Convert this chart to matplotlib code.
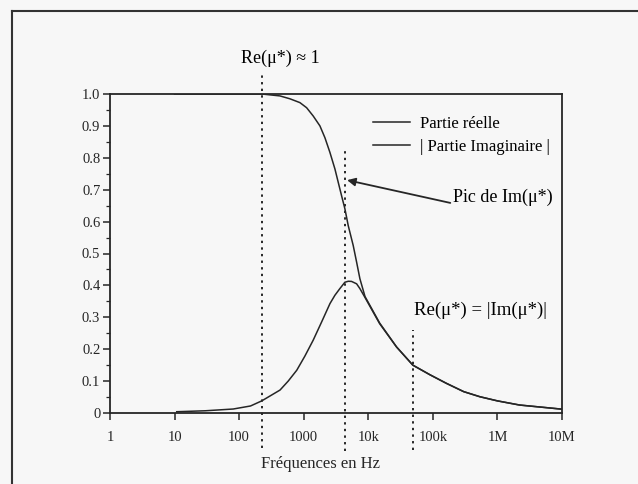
import matplotlib
matplotlib.use("Agg")
import matplotlib.pyplot as plt
from matplotlib.lines import Line2D

plt.rcParams['font.family'] = ['Liberation Serif', 'DejaVu Serif']

# valeurs (frequence en Hz)
freq_re = [10, 100, 225, 428, 611, 873, 1109, 1403, 1782, 2130, 2545, 3043, 3426,
           3858, 4345, 4890, 5843, 6594, 7413, 8900, 15000, 27400, 49000, 89900,
           162000, 300000, 535000, 1e6, 2.2e6, 1e7]
re_vals = [1.0, 1.0, 1.0, 0.994, 0.985, 0.973, 0.957, 0.931, 0.90, 0.863, 0.817,
           0.765, 0.723, 0.681, 0.64, 0.5875, 0.525, 0.473, 0.421, 0.365, 0.282,
           0.207, 0.15, 0.12, 0.093, 0.067, 0.051, 0.038, 0.025, 0.012]

freq_im = [10.8, 30, 81, 150, 224, 430, 575, 780, 1040, 1400, 1890, 2550, 3040,
           3630, 4345, 4900, 5500, 6594, 7413, 8900, 15000, 27400, 49000, 89900,
           162000, 300000, 535000, 1e6, 2.2e6, 1e7]
im_vals = [0.004, 0.007, 0.0125, 0.022, 0.038, 0.072, 0.1, 0.134, 0.178, 0.228,
           0.285, 0.343, 0.369, 0.39, 0.41, 0.413, 0.4125, 0.405, 0.39, 0.362,
           0.28, 0.207, 0.15, 0.12, 0.093, 0.067, 0.051, 0.038, 0.025, 0.012]

# lignes pointillees verticales : frequence, haut, bas
vlines_f = [225, 4300, 49000]
vlines_top = [1.07, 0.83, 0.26]
vlines_bot = [-0.11, -0.12, -0.115]

xticks = [1, 10, 100, 1000, 1e4, 1e5, 1e6, 1e7]
xticklabels = ['1', '10', '100', '1000', '10k', '100k', '1M', '10M']
yticks = [0, 0.1, 0.2, 0.3, 0.4, 0.5, 0.6, 0.7, 0.8, 0.9, 1.0]
yticklabels = ['0', '0.1', '0.2', '0.3', '0.4', '0.5', '0.6', '0.7', '0.8', '0.9', '1.0']

fig = plt.figure(figsize=(6.38, 4.84), dpi=100, facecolor='#f7f7f7')
ax = fig.add_axes([110 / 638, 71 / 484, 452 / 638, 319 / 484])
ax.set_facecolor('#f7f7f7')

ink = '#262626'
l1, = ax.plot(freq_re, re_vals, color=ink, lw=1.1)
l2, = ax.plot(freq_im, im_vals, color=ink, lw=1.1)

for f, t, b in zip(vlines_f, vlines_top, vlines_bot):
    ax.plot([f, f], [b, t], color=ink, lw=1.4, ls=(0, (1.2, 2.2)), clip_on=False)

ax.set_xscale('log')
ax.set_xlim(1, 1e7)
ax.set_ylim(0, 1.0)
ax.set_xticks(xticks)
ax.set_xticklabels(xticklabels)
ax.xaxis.set_minor_locator(matplotlib.ticker.NullLocator())
ax.set_yticks(yticks)
ax.set_yticklabels(yticklabels)
ax.set_yticks([0.05 + 0.1 * i for i in range(10)], minor=True)
ax.tick_params(axis='both', which='major', direction='out', length=5, width=1.1,
               labelsize=10.5, colors=ink, pad=2)
ax.tick_params(axis='y', which='minor', direction='out', length=3, width=0.9, colors=ink)
ax.tick_params(axis='x', pad=8)
for s in ax.spines.values():
    s.set_color(ink)
    s.set_linewidth(1.3)

ax.set_xlabel('Fréquences en Hz', fontsize=12, labelpad=12, color=ink)
ax.xaxis.set_label_coords(0.465, -0.135)

ax.legend([l1, l2], ['Partie réelle', '| Partie Imaginaire |'], frameon=False,
          loc='upper left', bbox_to_anchor=(0.582, 0.932), borderpad=0,
          borderaxespad=0, handlelength=2.2, handletextpad=0.6,
          labelspacing=0.45, fontsize=12)

ax.annotate('Pic de Im(μ*)', xy=(4700, 0.73), xytext=(0.759, 0.677),
            textcoords='axes fraction', fontsize=13, ha='left', va='center',
            arrowprops=dict(arrowstyle='-|>', color=ink, lw=1.3,
                            mutation_scale=12, relpos=(0.02, 0.1), shrinkA=0, shrinkB=0))
ax.text(0.673, 0.323, 'Re(μ*) = |Im(μ*)|', transform=ax.transAxes,
        fontsize=13.5, ha='left', va='center')
fig.text(280 / 638, 1 - 58 / 484, 'Re(μ*) ≈ 1', fontsize=13, ha='center', va='center')

# cadre de la page
fig.add_artist(Line2D([12 / 638, 1.0], [1 - 11 / 484, 1 - 11 / 484], color='#333', lw=1.5))
fig.add_artist(Line2D([12 / 638, 12 / 638], [0, 1 - 11 / 484], color='#333', lw=1.5))

fig.savefig('out.png', dpi=100, facecolor=fig.get_facecolor())
